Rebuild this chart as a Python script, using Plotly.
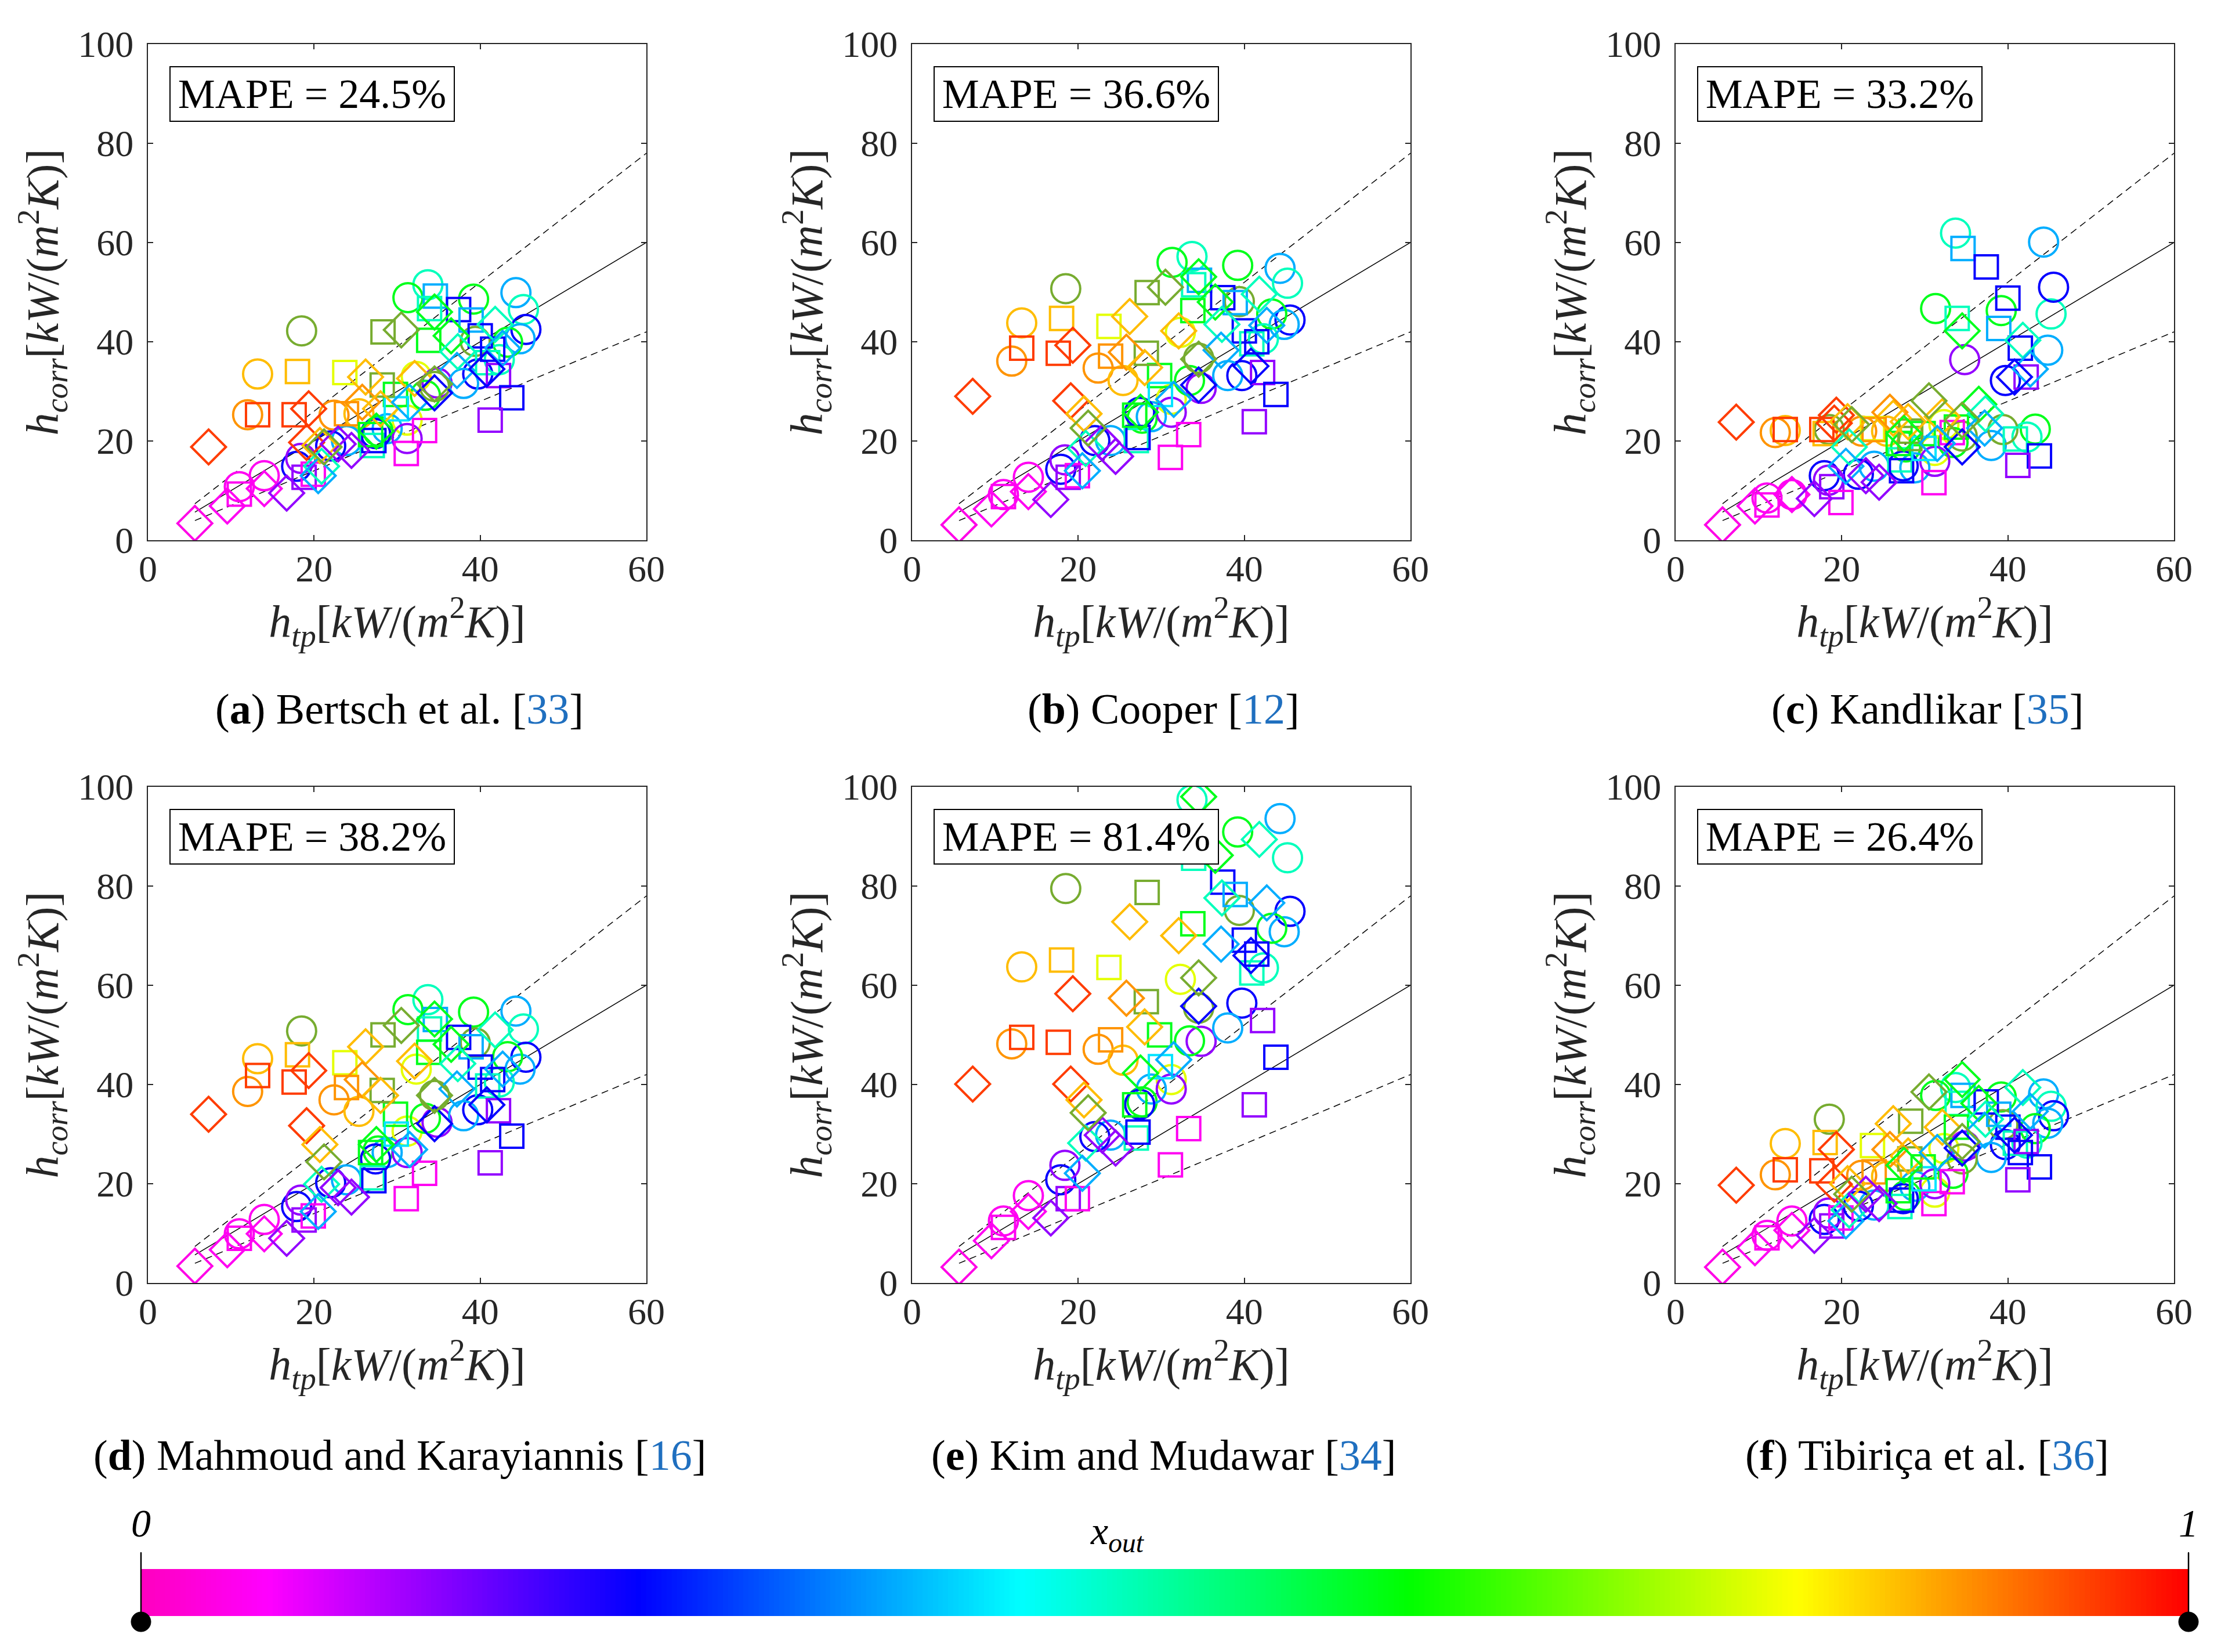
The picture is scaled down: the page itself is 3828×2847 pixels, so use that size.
import numpy as np
import plotly.graph_objects as go

# ---- experimental points (h_tp and exit quality are shared by all panels) ----
# circles
circ_htp = [18.5, 13.2, 12.0, 22.4, 25.4, 31.2, 32.3, 34.8, 34.5, 33.4, 33.7, 31.3, 39.2, 44.3, 45.2, 45.5,
            44.8, 43.3, 39.4, 39.7, 42.3, 38.0, 23.9, 17.9, 18.4, 14.0, 11.0, 27.7, 28.8, 31.2, 27.4, 22.0]
circ_xout = [None, 0.86, 0.89, 0.89, 0.86, 0.79, 0.79, 0.14, None, 0.60, 0.48, 0.60, 0.60, 0.37, 0.48, 0.24,
             0.37, 0.60, None, 0.24, 0.48, 0.37, 0.37, 0.24, 0.14, 0.05, 0.05, 0.60, 0.37, 0.14, 0.24, 0.24]
circ_bertsch = [42.2, 33.5, 25.3, 25.2, 25.5, 24.2, 33.0, 31.7, 31.0, 29.2, 51.5, 48.9, 48.6, 49.9, 46.5, 42.5,
                40.6, 39.9, 40.1, 33.5, 36.4, 31.6, 20.1, 14.9, 16.5, 13.0, 10.8, 22.0, 22.5, 20.5, 21.5, 19.0]
circ_cooper = [50.7, 43.8, 36.1, 34.7, 32.2, 28.4, 41.9, 30.6, 36.7, 32.2, 57.2, 56.0, 55.4, 54.8, 51.8, 44.4,
               43.5, 45.6, 48.1, 33.2, 40.6, 33.2, 20.1, 14.3, 16.2, 12.7, 9.2, 24.6, 24.9, 25.8, 25.8, 20.1]
circ_kandlikar = [22.3, 22.1, 21.7, 22.0, 22.0, 18.1, 23.3, 36.4, 21.0, 19.7, 61.9, 46.7, 46.3, 60.1, 45.6, 51.0,
                  38.3, 22.4, 22.3, 32.2, 20.8, 19.1, 14.9, 13.0, 12.1, 9.2, 8.5, 18.8, 14.6, 15.9, 15.0, 13.3]
circ_mahmoud = [50.8, 45.2, 38.6, 36.9, 34.6, 30.6, 43.1, 32.4, 37.8, 33.2, 57.1, 55.1, 54.6, 54.8, 51.2, 45.5,
                43.1, 45.6, 48.4, 34.9, 40.5, 33.7, 20.8, 15.4, 16.7, 12.8, 9.9, 26.6, 26.3, 26.3, 25.0, 20.2]
circ_kim = [79.5, 63.7, 48.2, 47.1, 44.9, 41.0, 61.2, 48.7, 55.4, 48.8, 97.4, 104.0, 90.9, 93.6, 85.7, 74.9,
            70.8, 71.5, 75.1, 56.4, 63.5, 51.4, 29.8, 20.8, 23.7, 17.6, 12.5, 36.5, 39.1, 39.1, 36.0, 29.5]
circ_tibirica = [33.0, 28.1, 21.8, 21.7, 21.5, 18.3, 27.1, 27.6, 25.0, 22.1, 39.4, 37.8, 37.5, 38.1, 35.6, 33.7,
                 32.2, 31.1, 31.9, 27.9, 28.2, 25.3, 15.7, 12.8, 14.1, 12.5, 9.6, 17.6, 19.5, 20.0, 17.0, 15.5]

# squares
sq_htp = [18.0, 23.7, 13.2, 17.6, 28.3, 28.2, 29.8, 23.9, 34.6, 33.9, 33.8, 37.4, 38.9, 40.0, 40.9, 42.2,
          43.8, 41.2, 33.3, 31.1, 27.0, 27.2, 29.9, 18.8, 11.0, 19.9, 26.8, 41.5]
sq_xout = [0.86, 0.79, 0.955, 0.955, None, None, 0.60, 0.89, 0.37, 0.48, 0.60, 0.24, 0.37, 0.24, 0.48, 0.14,
           0.24, 0.14, 0.05, 0.05, 0.48, 0.24, 0.41, 0.14, 0.05, 0.05, 0.60, 0.24]
sq_bertsch = [34.0, 33.8, 25.3, 25.3, 42.0, 31.3, 29.4, 25.5, 49.2, 46.7, 40.3, 46.5, 44.4, 41.2, 35.8, 33.2,
              28.7, 24.2, 22.1, 17.5, 19.1, 20.1, 26.5, 12.7, 9.3, 13.3, 21.3, 38.5]
sq_cooper = [44.7, 43.1, 38.7, 37.7, 49.9, 37.7, 33.2, 37.1, 52.4, 51.5, 46.3, 48.9, 47.9, 42.2, 39.6, 33.8,
             29.4, 23.9, 21.3, 16.7, 20.1, 20.7, 29.4, 12.7, 8.8, 13.0, 25.2, 40.0]
sq_kandlikar = [21.5, 22.5, 22.3, 22.3, 22.0, 20.5, 21.5, 22.3, 58.8, 44.7, 22.8, 55.1, 42.7, 48.8, 20.4, 32.9,
                17.0, 15.1, 21.7, 11.6, 16.2, 14.0, 18.5, 10.8, 7.1, 7.6, 19.5, 38.7]
sq_mahmoud = [46.0, 44.4, 41.8, 40.5, 50.0, 38.8, 34.0, 39.4, 53.1, 51.2, 46.5, 49.5, 47.6, 43.5, 39.7, 34.7,
              29.6, 24.2, 22.1, 17.0, 21.2, 20.6, 30.0, 12.7, 9.0, 13.5, 26.3, 41.0]
sq_kim = [65.1, 63.6, 49.5, 48.5, 78.7, 56.7, 50.0, 49.0, 103.0, 85.6, 72.4, 80.8, 78.3, 69.1, 62.5, 52.9,
          45.5, 35.9, 31.1, 23.8, 29.2, 30.4, 43.6, 17.0, 11.2, 17.0, 35.9, 66.3]
sq_tibirica = [28.3, 27.7, 22.8, 22.6, 32.6, 25.0, 23.4, 22.4, 37.8, 36.2, 31.4, 36.5, 34.0, 31.4, 28.2, 28.5,
               23.4, 20.8, 20.4, 16.0, 15.4, 16.7, 21.0, 11.5, 9.1, 13.1, 18.6, 26.3]

# diamonds
dia_htp = [5.65, 9.55, 14.0, 16.7, 7.3, 19.35, 19.1, 20.7, 21.2, 26.2, 25.8, 28.0, 32.1, 30.5, 34.5, 36.5,
           37.3, 37.2, 41.8, 42.7, 20.9, 20.5, 22.9, 24.5, 31.5, 34.5, 27.5, 40.8, 34.5]
dia_xout = [0.04, 0.05, 0.05, 0.14, 0.955, 0.955, 0.955, 0.86, None, 0.86, 0.89, 0.86, 0.86, None, 0.60, 0.60,
            0.48, 0.37, 0.48, 0.37, 0.48, 0.37, 0.14, 0.14, 0.37, 0.24, 0.60, 0.24, None]
dia_bertsch = [3.4, 6.9, 10.4, 9.5, 18.8, 26.5, 19.7, 19.1, 18.8, 32.9, 27.8, 26.5, 32.6, 42.4, 46.0, 41.2,
               38.0, 34.2, 43.5, 38.7, 14.9, 13.0, 19.4, 18.1, 27.8, 29.7, 22.0, 34.5, 31.5]
dia_cooper = [3.1, 6.3, 9.8, 8.2, 29.0, 39.3, 28.1, 25.5, 22.6, 45.1, 37.9, 34.8, 42.2, 51.0, 53.1, 48.0,
              43.5, 38.3, 49.6, 43.3, 18.5, 14.0, 19.7, 16.9, 28.4, 31.3, 25.8, 35.1, 36.5]
dia_kandlikar = [3.1, 6.9, 9.2, 8.4, 23.8, 25.2, 23.6, 23.9, 23.3, 24.6, 25.8, 23.9, 24.9, 28.1, 42.2, 27.4,
                 25.5, 22.6, 40.3, 34.5, 18.8, 14.9, 13.0, 11.7, 19.5, 18.8, 21.5, 32.9, 24.2]
dia_mahmoud = [3.4, 6.7, 9.9, 9.0, 34.0, 42.8, 31.7, 27.9, 24.4, 47.6, 41.0, 37.8, 44.7, 51.9, 53.2, 48.1,
               44.2, 39.1, 51.0, 43.1, 19.9, 14.4, 19.2, 17.3, 26.9, 32.1, 27.9, 35.9, 37.8]
dia_kim = [3.2, 8.5, 14.4, 13.1, 40.1, 58.3, 40.1, 36.9, 34.3, 72.8, 57.4, 51.6, 70.0, 104.0, 98.0, 86.2,
           77.6, 68.3, 89.4, 76.6, 28.2, 22.1, 29.8, 27.2, 45.0, 55.8, 42.3, 66.0, 61.5]
dia_tibirica = [3.2, 7.1, 10.6, 9.6, 19.7, 26.9, 19.9, 20.0, 17.9, 32.1, 26.9, 25.6, 31.4, 38.5, 41.0, 36.2,
                33.0, 30.8, 39.4, 34.6, 14.7, 12.5, 17.9, 16.0, 26.3, 27.2, 23.7, 29.8, 28.5]

# ---- panel texts ----
letters = ["a", "b", "c", "d", "e", "f"]
authors = ["Bertsch et al.", "Cooper", "Kandlikar", "Mahmoud and Karayiannis", "Kim and Mudawar", "Tibiriça et al."]
refs = ["33", "12", "35", "16", "34", "36"]
mape = [24.5, 36.6, 33.2, 38.2, 81.4, 26.4]
x_ticks = [0, 20, 40, 60]
y_ticks = [0, 20, 40, 60, 80, 100]
band = [1.0, 1.3, 0.7]          # y = x and +/-30 % lines
cbar_ends = [0, 1]

circ_sets = [circ_bertsch, circ_cooper, circ_kandlikar, circ_mahmoud, circ_kim, circ_tibirica]
sq_sets = [sq_bertsch, sq_cooper, sq_kandlikar, sq_mahmoud, sq_kim, sq_tibirica]
dia_sets = [dia_bertsch, dia_cooper, dia_kandlikar, dia_mahmoud, dia_kim, dia_tibirica]

CSCALE = [[0.0, "rgb(255,0,190)"], [0.063, "rgb(255,0,255)"], [0.244, "rgb(0,0,255)"],
          [0.43, "rgb(0,255,255)"], [0.62, "rgb(0,255,0)"], [0.81, "rgb(255,255,0)"],
          [1.0, "rgb(255,0,0)"]]
OLIVE = "#77AC30"
FONT = "Liberation Serif"
INK = "#262626"
REFBLUE = "#1f6fbf"

# page pixels (the html body adds an 8px margin around the figure)
PAGE_W, PAGE_H, BODY = 3828, 2847, 8
FW, FH = PAGE_W - 2 * BODY, PAGE_H - 2 * BODY


def fx(p):
    return (p - BODY) / FW


def fy(p):
    return 1 - (p - BODY) / FH


col_left = [255, 1572, 2888]
row_top = [76, 1356]
AX_W, AX_H = 859, 855
caption_y = [1222, 2508]

fig = go.Figure()

shapes = [("circle-open", 50, circ_htp, circ_xout, circ_sets),
          ("square-open", 40, sq_htp, sq_xout, sq_sets),
          ("diamond-open", 46, dia_htp, dia_xout, dia_sets)]

x_start = min(min(circ_htp), min(sq_htp), min(dia_htp))
line_x = [x_start, x_ticks[-1]]

annotations = []
for k in range(6):
    r, c = divmod(k, 3)
    n = "" if k == 0 else str(k + 1)
    xr, yr = "x" + n, "y" + n

    for s in band:
        fig.add_trace(go.Scatter(x=line_x, y=[s * v for v in line_x], mode="lines",
                                 line=dict(color="black", width=1.5,
                                           dash="solid" if s == 1.0 else "12px,8px"),
                                 xaxis=xr, yaxis=yr, hoverinfo="skip"))

    for sym, size, htp, xout, sets in shapes:
        vals = sets[k]
        ci = [i for i, q in enumerate(xout) if q is not None]
        oi = [i for i, q in enumerate(xout) if q is None]
        fig.add_trace(go.Scatter(
            x=[htp[i] for i in ci], y=[vals[i] for i in ci], mode="markers",
            marker=dict(symbol=sym, size=size, color=[xout[i] for i in ci],
                        colorscale=CSCALE, cmin=0, cmax=1, line=dict(width=4)),
            xaxis=xr, yaxis=yr))
        fig.add_trace(go.Scatter(
            x=[htp[i] for i in oi], y=[vals[i] for i in oi], mode="markers",
            marker=dict(symbol=sym, size=size, color=OLIVE, line=dict(width=4, color=OLIVE)),
            xaxis=xr, yaxis=yr))

    left, top = col_left[c], row_top[r]
    ax_common = dict(showgrid=False, zeroline=False, showline=True, linecolor=INK, linewidth=2,
                     mirror="ticks", ticks="inside", ticklen=9, tickwidth=2, tickcolor=INK,
                     tickfont=dict(family=FONT, size=64, color=INK), automargin=False)
    fig.layout["xaxis" + n] = dict(
        ax_common, domain=[fx(left), fx(left + AX_W)], range=[0, 60], tickvals=x_ticks,
        anchor=yr, ticklabelstandoff=-8,
        title=dict(text="<i>h</i><sub><i>tp</i></sub>[<i>kW</i>/(<i>m</i><sup>2</sup><i>K</i>)]",
                   font=dict(family=FONT, size=78, color=INK), standoff=6))
    fig.layout["yaxis" + n] = dict(
        ax_common, domain=[fy(top + AX_H), fy(top)], range=[0, 100], tickvals=y_ticks,
        anchor=xr, ticklabelstandoff=10,
        title=dict(text="<i>h</i><sub><i>corr</i></sub>[<i>kW</i>/(<i>m</i><sup>2</sup><i>K</i>)]",
                   font=dict(family=FONT, size=78, color=INK), standoff=8))

    annotations.append(dict(
        x=2.58, y=95.6, xref=xr, yref=yr, xanchor="left", yanchor="top", showarrow=False,
        text="MAPE = %.1f%%" % mape[k], font=dict(family=FONT, size=72, color="black"),
        bordercolor="black", borderwidth=2, borderpad=6, bgcolor="white", width=476, align="center"))
    annotations.append(dict(
        x=fx(left + AX_W / 2 + 4), y=fy(caption_y[r]), xref="paper", yref="paper",
        xanchor="center", yanchor="middle", showarrow=False,
        text="(<b>%s</b>) %s [<span style='color:%s'>%s</span>]" % (letters[k], authors[k], REFBLUE, refs[k]),
        font=dict(family=FONT, size=74, color="black")))

# ---- colour bar for exit quality, drawn as thin bars on its own axis ----
cbar_dom_x = [fx(243), fx(3772)]
cbar_dom_y = [fy(2785), fy(2704)]
n_steps = 400
cbar_pos = (np.arange(n_steps) + 0.5) / n_steps
fig.add_trace(go.Bar(x=cbar_pos, y=[1] * n_steps, width=1.6 / n_steps,
                     marker=dict(color=cbar_pos, colorscale=CSCALE, cmin=0, cmax=1, line=dict(width=0)),
                     xaxis="x7", yaxis="y7", hoverinfo="skip"))
fig.layout["xaxis7"] = dict(domain=cbar_dom_x, range=[0, 1], anchor="y7", side="top",
                            tickvals=cbar_ends, ticktext=["<i>0</i>", "<i>1</i>"], ticks="outside",
                            ticklen=28, tickwidth=2, tickcolor="black", showline=False,
                            showgrid=False, zeroline=False, automargin=False,
                            tickfont=dict(family=FONT, size=68, color="black"))
fig.layout["yaxis7"] = dict(domain=cbar_dom_y, range=[0, 1], anchor="x7",
                            showline=False, ticks="", showticklabels=False, showgrid=False,
                            zeroline=False, automargin=False)
annotations.append(dict(x=0.477, y=fy(2642), xref="x7", yref="paper", showarrow=False,
                        xanchor="center", yanchor="middle",
                        text="<i>x</i><sub><i>out</i></sub>",
                        font=dict(family=FONT, size=68, color="black")))

# end caps of the colour bar (paper-referenced so they are not clipped):
# a line through each end reaching above the bar, and a dot just below it
end_shapes = []
for e in cbar_ends:
    xp = cbar_dom_x[0] + e * (cbar_dom_x[1] - cbar_dom_x[0])
    end_shapes.append(dict(type="line", xref="paper", yref="paper", x0=xp, x1=xp,
                           y0=fy(2785), y1=fy(2676),
                           line=dict(color="black", width=2.5), layer="above"))
    end_shapes.append(dict(type="circle", xref="paper", yref="paper",
                           xsizemode="pixel", xanchor=xp, x0=-17, x1=17,
                           ysizemode="pixel", yanchor=fy(2795), y0=-17, y1=17,
                           fillcolor="black", line=dict(color="black", width=1), layer="above"))

fig.update_layout(width=FW, height=FH, margin=dict(l=0, r=0, t=0, b=0),
                  paper_bgcolor="white", plot_bgcolor="white", showlegend=False,
                  bargap=0, annotations=annotations, shapes=end_shapes)

fig.write_html("out.html")
